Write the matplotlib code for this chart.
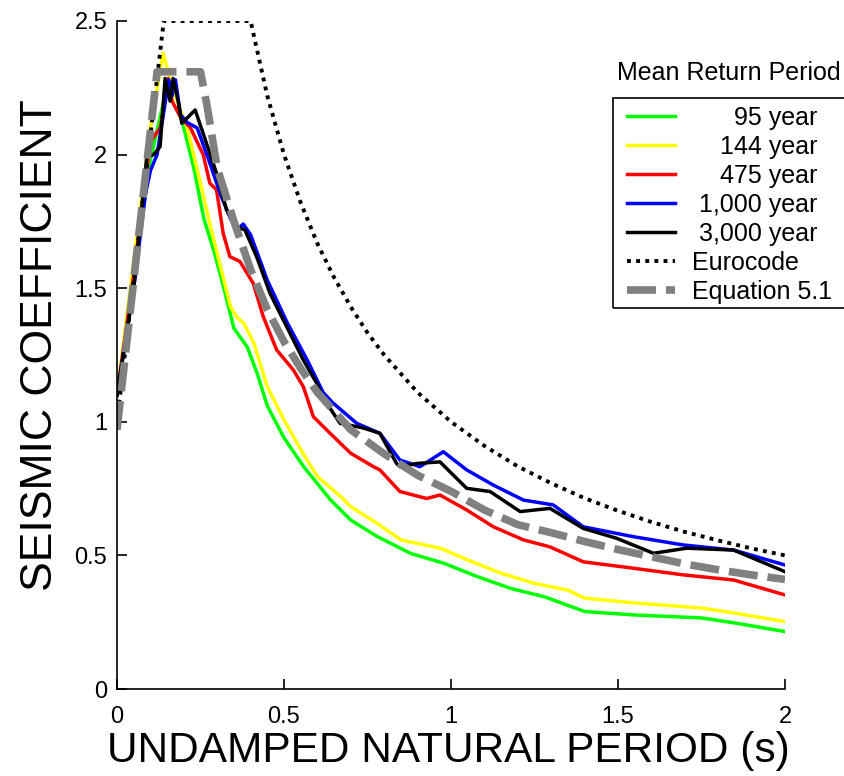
import matplotlib
matplotlib.use("Agg")
import matplotlib.pyplot as plt
from matplotlib.patches import Rectangle

# ---------------- data ----------------
t_95 = [0, 0.05, 0.10, 0.14, 0.17, 0.20, 0.23, 0.26, 0.29, 0.32, 0.35, 0.39, 0.42, 0.45,
        0.50, 0.56, 0.64, 0.70, 0.78, 0.88, 0.98, 1.08, 1.18, 1.28, 1.40, 1.55, 1.75, 1.85, 2.0]
y_95 = [1.10, 1.55, 1.98, 2.20, 2.28, 2.10, 1.95, 1.76, 1.64, 1.50, 1.35, 1.28, 1.18, 1.06,
        0.94, 0.83, 0.707, 0.632, 0.57, 0.507, 0.47, 0.42, 0.376, 0.345, 0.29, 0.277, 0.266, 0.247, 0.215]

t_144 = [0, 0.05, 0.10, 0.138, 0.16, 0.18, 0.21, 0.25, 0.28, 0.31, 0.34, 0.36, 0.38, 0.41, 0.45,
         0.50, 0.56, 0.60, 0.67, 0.70, 0.78, 0.85, 0.97, 1.05, 1.15, 1.25, 1.35, 1.40, 1.55, 1.75, 1.85, 2.0]
y_144 = [1.10, 1.60, 2.10, 2.38, 2.28, 2.20, 2.10, 1.893, 1.73, 1.58, 1.43, 1.39, 1.368, 1.294, 1.131,
         1.007, 0.875, 0.795, 0.72, 0.682, 0.619, 0.558, 0.526, 0.483, 0.433, 0.395, 0.37, 0.34, 0.322, 0.303, 0.284, 0.252]

t_475 = [0, 0.05, 0.10, 0.13, 0.153, 0.165, 0.19, 0.22, 0.258, 0.278, 0.298, 0.318, 0.338, 0.368,
         0.408, 0.438, 0.478, 0.528, 0.558, 0.588, 0.638, 0.70, 0.768, 0.787, 0.847, 0.927, 0.967,
         1.047, 1.127, 1.217, 1.296, 1.396, 1.546, 1.696, 1.846, 2.0]
y_475 = [1.10, 1.55, 2.05, 2.10, 2.285, 2.20, 2.14, 2.10, 2.00, 1.893, 1.868, 1.705, 1.618, 1.60,
         1.518, 1.393, 1.269, 1.194, 1.131, 1.019, 0.957, 0.882, 0.832, 0.82, 0.739, 0.713, 0.726,
         0.67, 0.607, 0.558, 0.532, 0.476, 0.452, 0.427, 0.408, 0.352]

t_1000 = [0, 0.05, 0.085, 0.10, 0.12, 0.155, 0.165, 0.175, 0.19, 0.21, 0.24, 0.278, 0.31, 0.34,
          0.36, 0.378, 0.40, 0.45, 0.51, 0.57, 0.617, 0.647, 0.718, 0.787, 0.847, 0.907, 0.977,
          1.047, 1.127, 1.217, 1.306, 1.396, 1.546, 1.696, 1.846, 2.0]
y_1000 = [1.10, 1.50, 1.85, 1.94, 2.00, 2.28, 2.22, 2.28, 2.15, 2.12, 2.10, 1.968, 1.85, 1.76,
          1.72, 1.74, 1.70, 1.53, 1.37, 1.23, 1.11, 1.07, 0.994, 0.957, 0.857, 0.832, 0.888,
          0.82, 0.763, 0.707, 0.689, 0.607, 0.57, 0.539, 0.52, 0.464]

t_3000 = [0, 0.05, 0.089, 0.11, 0.129, 0.144, 0.159, 0.168, 0.183, 0.194, 0.234, 0.258, 0.298,
          0.328, 0.358, 0.383, 0.418, 0.458, 0.508, 0.558, 0.598, 0.617, 0.668, 0.718, 0.737,
          0.787, 0.837, 0.847, 0.897, 0.967, 1.047, 1.117, 1.207, 1.296, 1.396, 1.496, 1.606,
          1.706, 1.846, 2.0]
y_3000 = [1.10, 1.50, 1.99, 2.00, 2.03, 2.285, 2.20, 2.285, 2.20, 2.117, 2.167, 2.079, 1.93,
          1.793, 1.73, 1.718, 1.618, 1.481, 1.356, 1.231, 1.144, 1.09, 0.994, 0.982, 0.977,
          0.957, 0.844, 0.832, 0.844, 0.85, 0.751, 0.739, 0.664, 0.676, 0.601, 0.564, 0.508,
          0.527, 0.52, 0.439]

t_euro = [0, 0.14, 0.40, 0.45, 0.50, 0.55, 0.60, 0.65, 0.70, 0.75, 0.80, 0.90, 1.0, 1.1, 1.2,
          1.3, 1.4, 1.5, 1.6, 1.7, 1.8, 1.9, 2.0]
y_euro = [1.0, 2.5, 2.5, 2.22, 2.0, 1.82, 1.667, 1.54, 1.43, 1.333, 1.25, 1.11, 1.0, 0.91, 0.833,
          0.77, 0.714, 0.667, 0.625, 0.588, 0.556, 0.526, 0.5]

t_eq = [0, 0.12, 0.25, 0.27, 0.30, 0.35, 0.40, 0.45, 0.50, 0.55, 0.60, 0.70, 0.80, 0.90, 1.0,
        1.1, 1.2, 1.3, 1.4, 1.5, 1.6, 1.7, 1.8, 1.9, 2.0]
y_eq = [0.97, 2.31, 2.31, 2.18, 1.95, 1.75, 1.57, 1.42, 1.30, 1.20, 1.11, 0.97, 0.88, 0.80, 0.74,
        0.67, 0.615, 0.585, 0.552, 0.522, 0.495, 0.468, 0.446, 0.427, 0.41]

labels = ["      95 year", "    144 year", "    475 year", " 1,000 year", " 3,000 year",
          "Eurocode", "Equation 5.1"]
legend_title = "Mean Return Period"
x_ticks = [0, 0.5, 1, 1.5, 2]
x_ticklabels = ["0", "0.5", "1", "1.5", "2"]
y_ticks = [0, 0.5, 1, 1.5, 2, 2.5]
y_ticklabels = ["0", "0.5", "1", "1.5", "2", "2.5"]

# ---------------- figure ----------------
plt.rcParams['font.family'] = ['Liberation Sans', 'DejaVu Sans']
W, H = 844, 776
fig = plt.figure(figsize=(W / 100, H / 100), dpi=100)
ax = fig.add_axes([117 / W, 1 - 689 / H, (785 - 117) / W, (689 - 21) / H])

lw = 2.5
ax.plot(t_95, y_95, color='#00ff00', lw=lw, label=labels[0])
ax.plot(t_144, y_144, color='#ffff00', lw=lw, label=labels[1])
ax.plot(t_475, y_475, color='#ff0000', lw=lw, label=labels[2])
ax.plot(t_1000, y_1000, color='#0000ff', lw=lw, label=labels[3])
ax.plot(t_3000, y_3000, color='#000000', lw=lw, label=labels[4])
ax.plot(t_euro, y_euro, color='black', lw=2.8, linestyle=(0, (1.0, 1.35)),
        dash_capstyle='butt', label=labels[5])
ax.plot(t_eq, y_eq, color='#808080', lw=5.5, linestyle=(0, (3.8, 1.3)),
        dash_capstyle='butt', label=labels[6])

ax.set_xlim(0, 2)
ax.set_ylim(0, 2.5)
ax.set_xticks(x_ticks)
ax.set_xticklabels(x_ticklabels)
ax.set_yticks(y_ticks)
ax.set_yticklabels(y_ticklabels)
ax.tick_params(direction='in', length=7, width=1.2, labelsize=17)
ax.tick_params(axis='x', pad=12)
ax.tick_params(axis='y', pad=7)
for s in ['top', 'right']:
    ax.spines[s].set_visible(False)
for s in ['left', 'bottom']:
    ax.spines[s].set_linewidth(1.2)

ax.set_xlabel("UNDAMPED NATURAL PERIOD (s)", fontsize=30.5)
ax.set_ylabel("SEISMIC COEFFICIENT", fontsize=32)
ax.xaxis.set_label_coords(0.496, (689 - 731) / 668)
ax.yaxis.set_label_coords((61 - 117) / 668, 0.515)

# legend box (extends past the right edge like the reference)
fig.add_artist(Rectangle((613 / W, 1 - 308 / H), 300 / W, (308 - 98) / H,
                         transform=fig.transFigure, fill=False, edgecolor='black',
                         lw=1.2, clip_on=False))
leg = fig.legend(loc='upper left', bbox_to_anchor=(627 / W, 1 - 106 / H), fontsize=18,
                 frameon=False, handlelength=1.9, handletextpad=0.7, labelspacing=0.2,
                 borderpad=0, borderaxespad=0)

fig.text(617 / W, 1 - 73 / H, legend_title, fontsize=18, ha='left', va='center')

fig.savefig("out.png", dpi=100)
